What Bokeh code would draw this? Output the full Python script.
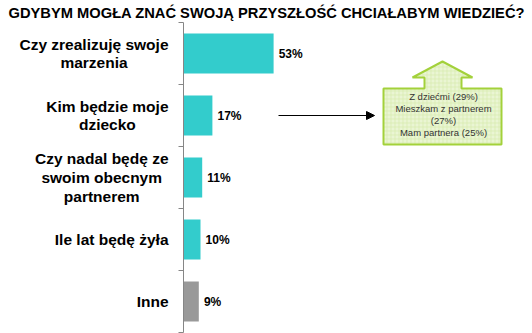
from bokeh.plotting import figure
from bokeh.models import Range1d, Arrow, NormalHead
from bokeh.core.properties import value
from bokeh.embed import file_html
from bokeh.resources import INLINE

# ---- data ----
title_text = "GDYBYM MOGŁA ZNAĆ SWOJĄ PRZYSZŁOŚĆ CHCIAŁABYM WIEDZIEĆ?"
categories = [
    "Czy zrealizuję swoje\nmarzenia",
    "Kim będzie moje\ndziecko",
    "Czy nadal będę ze\nswoim obecnym\npartnerem",
    "Ile lat będę żyła",
    "Inne",
]
values = [53, 17, 11, 10, 9]
value_labels = ["53%", "17%", "11%", "10%", "9%"]
callout_lines = "Z dziećmi (29%)\nMieszkam z partnerem\n(27%)\nMam partnera (25%)"

# ---- layout helpers (pixel -> data) ----
W, H = 532, 333
X0, SX = 183.0, 1.7     # px of x=0, px per percent
Y0, SY = 53.0, 62.0     # px of first category centre, px per category


def dx(px):
    return (px - X0) / SX


def dy(py):
    return (py - Y0) / SY


TEAL = "#33CCCC"
GREY = "#999999"
bar_colors = [TEAL, TEAL, TEAL, TEAL, GREY]
idx = list(range(len(values)))

p = figure(width=W, height=H, output_backend="svg", toolbar_location=None,
           x_range=Range1d(dx(0), dx(W)), y_range=Range1d(dy(H), dy(0)),
           x_axis_location=None, y_axis_location=None, min_border=0)
p.min_border_left = p.min_border_right = p.min_border_top = p.min_border_bottom = 0
p.outline_line_color = None
p.xgrid.visible = False
p.ygrid.visible = False
p.background_fill_color = "white"

FONT = value("Liberation Sans")

# bars
p.hbar(y=idx, right=values, left=0, height=40 / SY, color=bar_colors, line_color=None)

# axis line and boundary ticks
n = len(values)
p.segment(x0=[0], y0=[-0.5], x1=[0], y1=[n - 0.5], line_color="#868686", line_width=1)
p.segment(x0=[dx(178)] * (n + 1), y0=[i - 0.5 for i in range(n + 1)],
          x1=[0] * (n + 1), y1=[i - 0.5 for i in range(n + 1)],
          line_color="#868686", line_width=1)

# category labels
p.text(x=[dx(168)] * n, y=idx, text=categories, text_font=FONT, text_font_style="bold",
       text_font_size="15.5px", text_align="center", anchor="center_right",
       text_baseline="middle", text_line_height=1.1, text_color="#000000")

# value labels
p.text(x=[v + 3 for v in values], y=idx, text=value_labels, text_font=FONT,
       text_font_style="bold", text_font_size="12px", text_align="left",
       text_baseline="middle", text_color="#000000")

# title
p.text(x=[dx(8)], y=[dy(12)], text=[title_text], text_font=FONT, text_font_style="bold",
       text_font_size="14.7px", text_align="left", text_baseline="middle", text_color="#000000")

# arrow from the 17% bar to the callout
p.add_layout(Arrow(end=NormalHead(size=8, fill_color="black", line_color="black"),
                   x_start=dx(278), y_start=1, x_end=dx(374), y_end=1,
                   line_color="black", line_width=1))

# green up-arrow callout shape
shape_px = [(383, 144), (383, 88), (424, 88), (424, 77), (412, 77), (442, 61),
            (472, 77), (461, 77), (461, 88), (501, 88), (501, 144)]
p.patch(x=[dx(a) for a, b in shape_px], y=[dy(b) for a, b in shape_px],
        fill_color="#EAF5D3", line_color="#A3D13B", line_width=2,
        hatch_pattern="+", hatch_color="#D2E9A6", hatch_scale=4, hatch_weight=0.6)

p.text(x=[dx(443)], y=[dy(114)], text=[callout_lines], text_font=FONT,
       text_font_size="9.5px", text_align="center", text_baseline="middle",
       text_line_height=1.12, text_color="#333333")

open("out.html", "w").write(file_html(p, INLINE))
